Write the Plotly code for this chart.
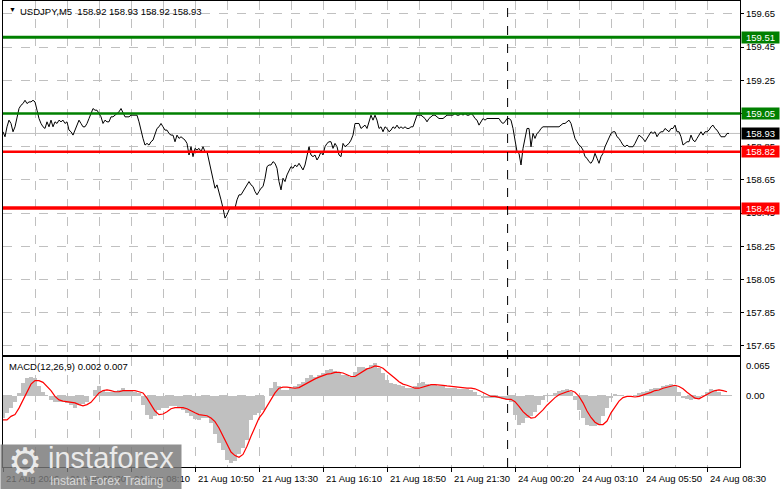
import plotly.graph_objects as go

# ---------------- data ----------------
close_prices = [
    158.94, 158.91, 158.97, 159.01, 158.99, 158.94, 158.97, 159.02, 159.08, 159.10,
    159.11, 159.13, 159.11, 159.12, 159.12, 159.13, 159.12, 159.07, 159.02, 158.99,
    158.97, 158.96, 159.00, 158.97, 159.01, 158.97, 159.00, 158.99, 159.01, 159.00,
    159.01, 158.99, 159.00, 158.95, 158.94, 158.92, 158.95, 158.98, 159.01, 158.99,
    158.97, 158.97, 158.99, 159.02, 159.05, 159.08, 159.07, 159.07, 159.05, 159.03,
    158.99, 159.01, 159.00, 159.00, 159.03, 159.03, 159.04, 159.05, 159.06, 159.08,
    159.05, 159.03, 159.03, 159.03, 159.04, 159.04, 159.04, 159.04, 159.00, 158.94,
    158.90, 158.86, 158.87, 158.86, 158.88, 158.89, 158.93, 158.96, 158.97, 158.99,
    158.97, 158.95, 158.95, 158.93, 158.92, 158.92, 158.88, 158.92, 158.90, 158.91,
    158.90, 158.89, 158.87, 158.80, 158.85, 158.79, 158.84, 158.83, 158.84, 158.82,
    158.85, 158.82, 158.82, 158.76, 158.70, 158.64, 158.60, 158.62, 158.58, 158.53,
    158.48, 158.42, 158.44, 158.47, 158.48, 158.48, 158.48, 158.53, 158.56, 158.56,
    158.58, 158.60, 158.62, 158.64,
    158.62, 158.61, 158.58, 158.56, 158.58, 158.60, 158.61, 158.66, 158.73, 158.74,
    158.74, 158.76, 158.75, 158.72, 158.64, 158.59, 158.66, 158.64, 158.68, 158.71,
    158.73, 158.72, 158.74, 158.73, 158.75, 158.73, 158.71, 158.74, 158.79, 158.85,
    158.80, 158.79, 158.80, 158.77, 158.79, 158.82, 158.80, 158.85, 158.87, 158.88,
    158.88, 158.84, 158.87, 158.85, 158.80, 158.79, 158.87, 158.85, 158.86, 158.87,
    158.89, 158.92, 158.99, 158.99, 158.99, 158.96, 158.97, 158.98, 158.96, 159.00,
    159.04, 159.01, 159.04, 159.01, 158.96, 158.97, 158.94, 158.97, 158.96, 158.94,
    158.95, 158.97, 158.96, 158.98, 158.96, 158.97, 158.96, 158.97, 158.96, 158.96,
    158.97, 158.97, 159.00, 159.04, 159.04, 159.04, 159.03, 159.02, 159.00, 159.02,
    159.03, 159.04, 159.04, 159.03, 159.02, 159.02, 159.02, 159.03, 159.04, 159.04,
    159.04, 159.04, 159.05, 159.04, 159.04, 159.05, 159.04, 159.05, 159.04, 159.04,
    159.05, 159.04, 159.02, 159.01, 158.98, 159.00, 159.02, 159.01, 159.02, 159.02,
    159.02, 159.02,
    159.02, 159.02, 159.02, 159.00, 158.99, 159.00, 159.02, 159.02, 159.01, 158.96,
    158.88, 158.82, 158.81, 158.74, 158.84, 158.91, 158.96, 158.96, 158.85, 158.93,
    158.90, 158.93, 158.94, 158.96, 158.97, 158.97, 158.97, 158.97, 158.97, 158.97,
    158.97, 158.97, 158.97, 158.98, 158.99, 158.99, 159.00, 159.01, 158.99, 158.95,
    158.90, 158.88, 158.86, 158.85, 158.83, 158.79, 158.78, 158.76, 158.75, 158.77,
    158.81, 158.78, 158.75, 158.79, 158.81, 158.85, 158.88, 158.90, 158.93, 158.94,
    158.94, 158.91, 158.90, 158.88, 158.86, 158.85, 158.86, 158.85, 158.85, 158.85,
    158.87, 158.90, 158.92, 158.91, 158.90, 158.88, 158.90, 158.92, 158.94, 158.93,
    158.94, 158.91, 158.93, 158.94, 158.94, 158.96, 158.95, 158.94, 158.96, 158.96,
    158.98, 158.94, 158.94, 158.91, 158.86, 158.87, 158.88, 158.88, 158.92, 158.89,
    158.88, 158.90, 158.92, 158.94, 158.92, 158.94, 158.94, 158.95, 158.97, 158.98,
    158.96, 158.95, 158.93, 158.91, 158.91, 158.91, 158.93, 158.93,
]

# MACD histogram (main line) and signal line, sampled every 2 bars
macd_hist = [
    -0.038, -0.029, -0.021, -0.010, 0.005, 0.022, 0.030, 0.033, 0.031, 0.016,
    0.007, -0.001, -0.007, -0.010, -0.010, -0.011, -0.012, -0.015, -0.020, -0.015,
    -0.014, -0.010, -0.001, 0.010, 0.016, 0.009, 0.007, 0.007, 0.009, 0.010,
    0.013, 0.009, 0.009, 0.007, 0.005, -0.015, -0.032, -0.039, -0.035, -0.024,
    -0.020, -0.021, -0.018, -0.018, -0.021, -0.024, -0.029, -0.035, -0.039, -0.041,
    -0.038, -0.038, -0.046, -0.066, -0.080, -0.092, -0.109, -0.115, -0.111, -0.100,
    -0.089, -0.075,
    -0.041, -0.032, -0.029, -0.024, 0.000, 0.013, 0.024, 0.016, 0.010, 0.010,
    0.013, 0.016, 0.020, 0.024, 0.030, 0.035, 0.033, 0.036, 0.039, 0.044,
    0.046, 0.043, 0.039, 0.036, 0.035, 0.033, 0.041, 0.050, 0.050, 0.048,
    0.053, 0.056, 0.047, 0.039, 0.027, 0.022, 0.020, 0.019, 0.016, 0.014,
    0.013, 0.016, 0.022, 0.024, 0.020, 0.019, 0.018, 0.016, 0.016, 0.014,
    0.013, 0.013, 0.012, 0.012, 0.012, 0.010, 0.007, 0.002, -0.003, -0.004,
    -0.004,
    -0.004, -0.004, -0.005, -0.007, -0.010, -0.032, -0.049, -0.046, -0.038, -0.035,
    -0.027, -0.015, -0.007, -0.001, 0.002, 0.005, 0.009, 0.010, 0.012, 0.006,
    -0.007, -0.024, -0.038, -0.049, -0.052, -0.052, -0.049, -0.035, -0.021, -0.004,
    0.003, -0.001, -0.001, -0.001, -0.002, 0.002, 0.005, 0.006, 0.009, 0.012,
    0.013, 0.014, 0.016, 0.019, 0.020, 0.019, 0.007, -0.003, -0.005, -0.007,
    -0.005, -0.003, 0.002, 0.007, 0.012, 0.010, 0.006, 0.002, 0.002,
]

macd_signal = [
    -0.041, -0.041, -0.035, -0.032, -0.021, -0.007, 0.007, 0.020, 0.026, 0.026,
    0.023, 0.016, 0.009, -0.001, -0.007, -0.009, -0.010, -0.011, -0.012, -0.015,
    -0.017, -0.015, -0.011, -0.003, 0.005, 0.009, 0.010, 0.009, 0.007, 0.007,
    0.009, 0.009, 0.009, 0.009, 0.007, 0.005, -0.004, -0.015, -0.026, -0.032,
    -0.031, -0.027, -0.022, -0.020, -0.020, -0.020, -0.022, -0.026, -0.029, -0.032,
    -0.033, -0.034, -0.038, -0.044, -0.055, -0.069, -0.083, -0.096, -0.102, -0.105,
    -0.100, -0.086,
    -0.069, -0.052, -0.038, -0.029, -0.018, -0.007, 0.005, 0.013, 0.015, 0.015,
    0.014, 0.013, 0.014, 0.018, 0.022, 0.026, 0.029, 0.032, 0.035, 0.037,
    0.038, 0.040, 0.040, 0.039, 0.036, 0.033, 0.033, 0.037, 0.041, 0.046,
    0.048, 0.051, 0.050, 0.047, 0.041, 0.036, 0.030, 0.024, 0.020, 0.018,
    0.015, 0.013, 0.013, 0.015, 0.018, 0.019, 0.019, 0.019, 0.018, 0.017,
    0.016, 0.015, 0.014, 0.014, 0.013, 0.013, 0.012, 0.009, 0.006, 0.003,
    -0.001,
    -0.001, -0.003, -0.005, -0.006, -0.006, -0.010, -0.018, -0.027, -0.033, -0.038,
    -0.037, -0.031, -0.024, -0.016, -0.009, -0.003, 0.002, 0.005, 0.007, 0.009,
    0.006, -0.001, -0.012, -0.026, -0.037, -0.045, -0.049, -0.049, -0.043, -0.029,
    -0.018, -0.009, -0.003, -0.001, -0.001, -0.002, -0.001, 0.001, 0.003, 0.006,
    0.009, 0.010, 0.013, 0.015, 0.016, 0.018, 0.016, 0.012, 0.006, 0.001,
    -0.004, -0.005, -0.001, 0.002, 0.006, 0.009, 0.010, 0.009, 0.007,
]

macd_step = 2  # bars between MACD samples

price_ticks = [159.65, 159.45, 159.25, 159.05, 158.85, 158.65, 158.45, 158.25, 158.05, 157.85, 157.65]
green_levels = [159.51, 159.05]
red_levels = [158.82, 158.48]
current_price = 158.93

time_tick_bars = [0, 32, 64, 96, 128, 160, 192, 224, 256, 288, 320, 352]
time_tick_labels = ["21 Aug 2026", "21 Aug 05:30", "21 Aug 08:10", "21 Aug 10:50",
                    "21 Aug 13:30", "21 Aug 16:10", "21 Aug 18:50", "21 Aug 21:30",
                    "24 Aug 00:20", "24 Aug 03:10", "24 Aug 05:50", "24 Aug 08:30"]
day_separator_bar = 252.3

macd_labels = ["0.065", "0.00", "-0.122"]
macd_label_values = [0.065, 0.0, -0.122]

header_text = "USDJPY,M5\u00a0\u00a0158.92 158.93 158.92 158.93"
macd_header = "MACD(12,26,9) 0.002 0.007"

# ---------------- figure ----------------
FONT = "Liberation Sans, Arial, sans-serif"
GRID = "#c0c0c0"

bars_x = list(range(len(close_prices)))
macd_x = [i * macd_step for i in range(len(macd_hist))]

fig = go.Figure()
fig.add_trace(go.Scatter(x=bars_x, y=close_prices, mode="lines",
                         line=dict(color="black", width=1), xaxis="x", yaxis="y",
                         hoverinfo="skip", showlegend=False))
fig.add_trace(go.Bar(x=macd_x, y=macd_hist, width=macd_step,
                     marker=dict(color="#c0c0c0", line=dict(width=0)),
                     xaxis="x2", yaxis="y2", showlegend=False, hoverinfo="skip"))
fig.add_trace(go.Scatter(x=macd_x, y=macd_signal, mode="lines",
                         line=dict(color="red", width=1.2), xaxis="x2", yaxis="y2",
                         hoverinfo="skip", showlegend=False))

W, H = 781, 489
ml, mr, mt, mb = 3, 41, 1, 22
plot_h = H - mt - mb
main_bottom_px = 355
macd_top_px = 357
main_domain = [(H - mb - main_bottom_px) / plot_h, 1]
macd_domain = [0, (H - mb - macd_top_px) / plot_h]

xrange = [0, 368.5]
common_x = dict(range=xrange, showline=True, mirror=True, linecolor="black", linewidth=1,
                tickmode="array", tickvals=time_tick_bars,
                showgrid=True, gridcolor=GRID, griddash="dash", gridwidth=1,
                minor=dict(tickmode="linear", tick0=0, dtick=16, showgrid=True,
                           gridcolor=GRID, griddash="dash", gridwidth=1),
                zeroline=False, fixedrange=True)

fig.update_layout(
    width=W, height=H,
    margin=dict(l=ml, r=mr, t=mt, b=mb),
    paper_bgcolor="white", plot_bgcolor="white",
    bargap=0,
    font=dict(family=FONT, size=9.5, color="black"),
    xaxis=dict(**common_x, anchor="y", showticklabels=False, ticks=""),
    xaxis2=dict(**common_x, anchor="y2", matches="x", showticklabels=False,
                ticks="outside", ticklen=4, tickcolor="black"),
    yaxis=dict(domain=main_domain, range=[157.595, 159.728], side="right",
               tickmode="array", tickvals=price_ticks, tickformat=".2f",
               ticks="outside", ticklen=3, tickcolor="black",
               showgrid=True, gridcolor=GRID, griddash="dash", gridwidth=1,
               showline=True, mirror=True, linecolor="black", linewidth=1,
               zeroline=False, fixedrange=True,
               tickfont=dict(family=FONT, size=9.5, color="black")),
    yaxis2=dict(domain=macd_domain, range=[-0.1215, 0.0663], side="right",
                tickmode="array", tickvals=[0], showticklabels=False, ticks="",
                showgrid=True, gridcolor=GRID, griddash="dash", gridwidth=1,
                showline=True, mirror=True, linecolor="black", linewidth=1,
                zeroline=False, fixedrange=True),
)

shapes = []
# current price line
shapes.append(dict(type="line", xref="x domain", yref="y", x0=0, x1=1,
                   y0=current_price, y1=current_price,
                   line=dict(color="#c0c0c0", width=1), layer="below"))
for lvl, w in zip(green_levels, [3, 2.5]):
    shapes.append(dict(type="line", xref="x domain", yref="y", x0=0, x1=1, y0=lvl, y1=lvl,
                       line=dict(color="#008000", width=w), layer="above"))
for lvl, w in zip(red_levels, [2.5, 3.5]):
    shapes.append(dict(type="line", xref="x domain", yref="y", x0=0, x1=1, y0=lvl, y1=lvl,
                       line=dict(color="#ff0000", width=w), layer="above"))
# day separator
shapes.append(dict(type="line", xref="x", yref="paper", x0=day_separator_bar, x1=day_separator_bar,
                   y0=0, y1=1, line=dict(color="black", width=1, dash="dash"), layer="above"))
fig.update_layout(shapes=shapes)

ann = []
pw = W - ml - mr
# header
ann.append(dict(xref="paper", yref="paper", x=4 / pw, y=1, xanchor="left", yanchor="top",
                yshift=-3, text="\u25bc", showarrow=False, font=dict(size=7, color="black")))
ann.append(dict(xref="paper", yref="paper", x=15 / pw, y=1, xanchor="left", yanchor="top",
                yshift=-3, text=header_text, showarrow=False, font=dict(size=9.5, color="black")))
ann.append(dict(xref="paper", yref="paper", x=4 / pw, y=macd_domain[1], xanchor="left",
                yanchor="top", yshift=-2, text=macd_header, showarrow=False,
                font=dict(size=9.5, color="black")))

# price level boxes on the right axis
def level_box(val, bg):
    return dict(xref="paper", yref="y", x=1, y=val, xanchor="left", yanchor="middle",
                xshift=1, text=f"{val:.2f}", showarrow=False, bgcolor=bg,
                width=35, height=9, borderpad=1, align="center",
                font=dict(size=9.5, color="white"))

for lvl in green_levels:
    ann.append(level_box(lvl, "#008000"))
ann.append(level_box(current_price, "black"))
for lvl in red_levels:
    ann.append(level_box(lvl, "#ff0000"))

# MACD scale labels
for txt, v, sh in zip(macd_labels, macd_label_values, [-8, 0, 6]):
    ann.append(dict(xref="paper", yref="y2", x=1, y=v, xanchor="left", yanchor="middle",
                    xshift=4, yshift=sh, text=txt, showarrow=False,
                    font=dict(size=9.5, color="black")))

# time labels
for b, txt in zip(time_tick_bars, time_tick_labels):
    ann.append(dict(xref="x2", yref="paper", x=b, y=0, xanchor="left", yanchor="top",
                    xshift=1, yshift=-4, text=txt, showarrow=False,
                    font=dict(size=9.5, color="black")))

# watermark (drawn after time labels so it covers them)
ann.append(dict(xref="paper", yref="paper", x=(0 - ml) / pw, y=(H - mb - 444) / plot_h,
                xanchor="left", yanchor="top", text=" ", showarrow=False,
                width=180, height=45, bgcolor="rgba(120,120,120,0.82)", borderpad=0))
ann.append(dict(xref="paper", yref="paper", x=(6 - ml) / pw, y=(H - mb - 462) / plot_h,
                xanchor="left", yanchor="middle", text="\u2699", showarrow=False,
                font=dict(family="DejaVu Sans", size=38, color="rgba(240,240,240,0.95)")))
ann.append(dict(xref="paper", yref="paper", x=(46 - ml) / pw, y=(H - mb - 458) / plot_h,
                xanchor="left", yanchor="middle", text="instaforex", showarrow=False,
                font=dict(family=FONT, size=29, color="rgba(240,240,240,0.95)")))
ann.append(dict(xref="paper", yref="paper", x=(48 - ml) / pw, y=(H - mb - 481) / plot_h,
                xanchor="left", yanchor="middle", text="Instant Forex Trading", showarrow=False,
                font=dict(family=FONT, size=12, color="rgba(225,225,225,0.9)")))

fig.update_layout(annotations=ann)

fig.write_html("out.html",
               config={"displayModeBar": False, "staticPlot": True},
               post_script="document.body.style.margin='0px';"
                           "document.documentElement.style.overflow='hidden';"
                           "document.body.style.overflow='hidden';")
